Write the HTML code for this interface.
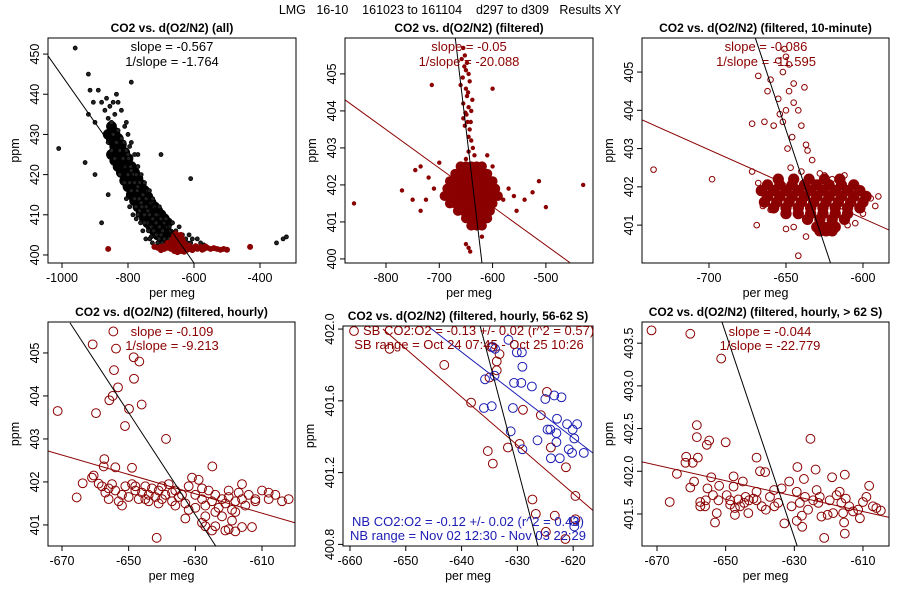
<!DOCTYPE html>
<html><head><meta charset="utf-8"><style>
html,body{margin:0;padding:0;background:#fff;}
svg{display:block;font-family:"Liberation Sans",Arial,sans-serif;}
</style></head><body>
<svg id="chart" width="900" height="600" viewBox="0 0 900 600" xmlns="http://www.w3.org/2000/svg">
<rect width="900" height="600" fill="#fff"/>
<text x="450" y="14" text-anchor="middle" font-size="12.5" fill="#000" xml:space="preserve">LMG   16-10    161023 to 161104    d297 to d309   Results XY</text>
</svg>
<script>
// ---------- data ----------
const p1XTicks=[-1000,-800,-600,-400];
const p1YTicks=[400,410,420,430,440,450];
const p1All=[[-960,451.5],[-1010,426.5],[-920,445],[-915,441],[-920,435],[-905,438],[-930,423],[-900,420],[-880,408],[-860,415],[-790,443],[-770,425],[-700,425],[-610,419],[-350,403],[-330,404],[-320,404.5],[-700,405],[-730,404.5],
[-880,438],[-870,436],[-860,434],[-850,433],[-845,430],[-840,435],[-835,428],[-830,431],[-825,426],[-820,429],[-815,424],[-812,428],[-808,422],[-805,426],[-800,420],[-798,424],[-795,418],[-792,422],[-790,416],[-785,420],[-782,414],[-780,418],[-776,412],[-772,416],[-770,410],[-766,414],[-762,408],[-758,412],[-755,406],[-750,410],[-746,404],[-742,408],[-738,406],[-734,404],[-730,407],[-726,403],[-722,406],[-718,402],[-714,405],[-710,403],[-706,404],[-700,402],[-696,403],[-690,404],[-685,402],[-680,403],[-675,404],
[-825,420],[-815,418],[-805,414],[-795,412],[-785,410],[-775,420],[-765,418],[-755,415],[-745,412],[-735,410],[-725,409],[-715,408],[-705,407],[-840,424],[-850,426],[-860,428],[-810,432],[-820,436],[-830,438],[-800,430],[-790,428],[-780,425],[-770,422],[-760,420],[-750,418],[-740,416],[-730,413],[-720,412],[-710,410],[-700,409],[-690,408],[-680,407],[-670,406],[-660,405],[-650,404],[-640,404],[-630,403],[-620,403],[-610,403],[-600,402],
[-810,418],[-800,425],[-790,421],[-780,414],[-770,417],[-760,413],[-750,408],[-740,411],[-795,427],[-805,433],[-835,440],[-845,438],[-855,437],[-865,439],[-890,441],[-900,433],[-775,409],[-765,411],[-745,414],[-735,416],[-725,414],[-715,410],[-705,412],[-695,406],[-685,409],[-675,407],[-665,408],[-655,406],[-645,407],[-635,405],[-625,404],[-615,405],[-605,404],[-590,404],[-580,403],[-570,402.5]];
const p1Core=[[-860,430],[-850,428.5],[-840,427],[-830,425.5],[-820,424],[-810,422],[-800,420],[-790,418.5],[-780,417],[-770,415.5],[-760,414],[-750,412.5],[-740,411],[-730,410],[-720,409],[-710,408],[-700,407],[-690,406],[-680,405.5],[-670,405],[-660,404.5],
[-850,432],[-840,430.5],[-830,429],[-820,427.5],[-810,425.5],[-800,424],[-790,422],[-780,420.5],[-770,419],[-760,417.5],[-750,416],[-740,414.5],[-730,413],[-720,412],[-710,411],[-700,410],[-690,409],[-680,408],
[-850,425],[-840,423.5],[-830,422],[-820,420.5],[-810,418.5],[-800,417],[-790,415],[-780,413.5],[-770,412],[-760,410.5],[-750,409],[-740,408],[-730,407],[-720,406],[-710,405],[-700,404.5],[-690,404],[-680,403.5]];
const p1Filtered=[[-860,401.5],[-430,402],[-720,402],[-710,401.8],[-700,402],[-690,401.5],[-680,401.8],[-675,402.5],[-670,403],[-665,404],[-660,405],[-655,405.3],[-650,404.5],[-645,403.5],[-640,405],[-635,404],[-630,403],[-625,402.5],[-620,402],[-615,401.5],[-610,402],[-600,401.8],[-590,401.5],[-580,402],[-570,401.5],[-560,401.8],[-550,401.5],[-540,401.7],[-530,401.5],[-520,401.3],[-510,401.5],[-500,401.3],[-660,401],[-650,400.7],[-640,401],[-630,400.8],[-670,401.5],[-655,402],[-645,402.2],[-635,401.8],[-625,401.2],[-665,402.8],[-650,403],[-640,402.6],[-630,401.6],[-620,401.3],[-700,401.2],[-690,402.2],[-680,403],[-660,403.2],[-645,404.8],[-655,403.8],[-635,402.8],[-615,402.3],[-605,401.2],[-595,402.2],[-585,401.9],[-575,401.3],[-565,402.1],[-650,401.8],[-660,402.2],[-640,402],[-630,402.2],[-620,401.6]];
const p1Fit=[[-1042,449.5],[-600,398]];

const p2XTicks=[-800,-700,-600,-500];
const p2YTicks=[400,401,402,403,404,405];
const p2Fringe=[[-655,405.7],[-652,405.5],[-648,405.3],[-650,405.1],[-656,404.9],[-645,405.0],[-660,404.7],[-650,404.6],[-643,404.8],[-648,404.4],[-655,404.2],[-645,404.1],[-651,403.95],[-640,404.0],[-655,403.8],[-647,403.7],[-643,403.5],[-652,403.6],[-645,403.3],[-640,403.2],[-637,403.0],[-645,402.9],[-634,402.8],[-650,402.7],[-714,404.7],[-600,404.6],[-610,402.8],[-638,404.3],[-658,405.4],[-653,405.2],[-646,404.5],[-649,403.9],[-641,403.7],
[-860,401.5],[-770,401.85],[-750,401.6],[-735,402.5],[-735,401.3],[-720,402.2],[-710,401.9],[-580,401.6],[-560,401.7],[-540,401.6],[-513,402.1],[-500,401.4],[-430,402.0],[-700,402.6],[-600,402.5],[-645,400.3],[-642,400.2],[-650,400.4],[-745,402.4],[-725,401.6],[-570,401.9],[-555,401.3],[-525,401.8],[-620,400.6],[-615,401.0]];
const p2Core=[[-660,402.5],[-650,402.5],[-640,402.5],[-630,402.5],[-620,402.5],
[-670,402.3],[-660,402.3],[-650,402.3],[-640,402.3],[-630,402.3],[-620,402.3],[-610,402.3],
[-680,402.1],[-670,402.1],[-660,402.1],[-650,402.1],[-640,402.1],[-630,402.1],[-620,402.1],[-610,402.1],[-600,402.1],
[-685,401.9],[-675,401.9],[-665,401.9],[-655,401.9],[-645,401.9],[-635,401.9],[-625,401.9],[-615,401.9],[-605,401.9],[-595,401.9],
[-690,401.7],[-680,401.7],[-670,401.7],[-660,401.7],[-650,401.7],[-640,401.7],[-630,401.7],[-620,401.7],[-610,401.7],[-600,401.7],[-590,401.7],
[-680,401.5],[-670,401.5],[-660,401.5],[-650,401.5],[-640,401.5],[-630,401.5],[-620,401.5],[-610,401.5],[-600,401.5],
[-665,401.3],[-655,401.3],[-645,401.3],[-635,401.3],[-625,401.3],[-615,401.3],[-605,401.3],
[-650,401.1],[-640,401.1],[-630,401.1],[-620,401.1],[-610,401.1],
[-640,400.9],[-630,400.9],[-620,400.9]];
const p2FitRed=[[-877,404.3],[-455,399.9]];
const p2FitBlack=[[-670,405.97],[-620,399.9]];

const p3XTicks=[-700,-650,-600];
const p3YTicks=[401,402,403,404,405];
const p3Fringe=[[-651,405.6],[-650,405.4],[-648,405.2],[-655,405.3],[-652,405.0],[-645,404.7],[-660,404.8],[-668,404.9],[-662,404.5],[-655,404.3],[-648,404.5],[-645,404.2],[-650,404.0],[-654,403.9],[-652,403.7],[-642,404.0],[-638,404.6],[-640,403.6],[-646,403.3],[-658,403.6],[-664,403.7],[-672,403.65],[-649,403.0],[-636,402.95],[-633,402.7],[-637,403.1],
[-736,402.45],[-698,402.2],[-642,400.2],[-669,401.0],[-672,402.4],[-668,402.1],[-665,401.5],[-660,401.4],[-612,402.3],[-605,402.0],[-595,401.7],[-590,401.75],[-592,401.5],[-600,401.3],[-605,401.05],[-650,400.9],[-645,400.95],[-637,400.7],[-610,401.0],[-647,402.5],[-640,402.4],[-628,402.35],[-625,402.3],[-620,402.2]];
const p3Core=[[-655,402.2],[-645,402.2],[-635,402.2],[-625,402.2],[-615,402.2],
[-662,402.05],[-654,402.05],[-646,402.05],[-638,402.05],[-630,402.05],[-622,402.05],[-614,402.05],[-606,402.05],
[-666,401.9],[-658,401.9],[-650,401.9],[-642,401.9],[-634,401.9],[-626,401.9],[-618,401.9],[-610,401.9],[-602,401.9],
[-662,401.75],[-654,401.75],[-646,401.75],[-638,401.75],[-630,401.75],[-622,401.75],[-614,401.75],[-606,401.75],[-598,401.75],
[-664,401.6],[-656,401.6],[-648,401.6],[-640,401.6],[-632,401.6],[-624,401.6],[-616,401.6],[-608,401.6],[-600,401.6],
[-658,401.45],[-650,401.45],[-642,401.45],[-634,401.45],[-626,401.45],[-618,401.45],[-610,401.45],[-602,401.45],
[-650,401.3],[-642,401.3],[-634,401.3],[-626,401.3],[-618,401.3],[-610,401.3],
[-636,401.15],[-628,401.15],[-620,401.15],[-612,401.15],
[-630,400.95],[-626,400.95],[-622,400.95],[-618,400.95],
[-628,400.85],[-624,400.85],[-620,400.85]];
const p3FitRed=[[-743.5,403.75],[-583,400.87]];
const p3FitBlack=[[-670,405.9],[-621,400.0]];

const p4XTicks=[-670,-650,-630,-610];
const p4YTicks=[401,402,403,404,405];
const p4Points=[[-654.6,405.5],[-653.8,405.1],[-660.8,405.2],[-671.3,403.65],[-659.8,403.6],[-648.5,404.9],[-646.8,404.8],[-654.4,404.6],[-648.4,404.4],[-653.2,404.2],[-654.8,404.0],[-655.8,403.9],[-649.9,403.7],[-646.1,403.8],[-651.1,403.3],[-638.8,403.0],[-641.6,400.7],[-665.6,401.64],[-663.8,401.97],[-661.0,402.1],[-660.5,402.15],[-659.0,401.96],[-657.5,402.36],[-657.3,402.53],[-654.0,402.34],[-649.0,402.33],[-624.9,402.36],
[-628,401.05],[-627,400.97],[-624,400.97],[-620,400.9],[-618,400.85],[-616,400.95],[-613,400.95],[-621,400.87],[-625,400.87],[-619,401.1],
[-658,401.9],[-657,401.75],[-656,401.6],[-655,401.95],[-654,401.8],[-653,401.55],[-652,401.7],[-651,401.9],[-650,401.65],[-649,401.95],[-648,401.8],[-647,401.6],[-646,401.75],[-645,401.9],[-644,401.7],[-643,401.85],[-642,401.65],[-641,401.8],[-640,401.6],[-639,401.7],[-638,401.95],[-637,401.55],[-636,401.8],[-635,401.65],[-634,401.7],[-633,401.5],[-632,401.9],[-631,402.1],[-630,401.7],[-629,402.05],[-628,401.6],[-627,401.45],[-626,401.8],[-625,401.55],[-624,401.7],[-623,401.4],[-622,401.6],[-621,401.5],[-620,401.65],[-619,401.35],[-618,401.55],[-617,401.75],[-616,401.6],[-615,401.45],[-614,401.7],[-612,401.55],[-610,401.8],[-608,401.6],[-606,401.7],[-604,401.55],[-602,401.6],
[-656,401.85],[-652,401.45],[-648,401.9],[-644,401.55],[-640,401.9],[-636,401.45],[-632,401.35],[-628,401.85],[-624,401.3],[-620,401.8],[-616,401.95],[-612,401.6],[-608,401.75],[-633,401.15],[-630,401.4],[-627,401.2],[-622,401.2],[-618,401.3],[-645,401.6],[-641,401.5],[-637,401.75]];
const p4FitRed=[[-674.2,402.72],[-600.1,401.05]];
const p4FitBlack=[[-667.6,405.7],[-623.8,400.5]];

const p5XTicks=[-660,-650,-640,-630,-620];
const p5YTicks=[400.8,401.2,401.6,402.0];
const p5SB=[[-652.9,401.89],[-643.1,401.80],[-638.3,401.59],[-635.3,401.32],[-634.4,401.25],[-631.7,401.34],[-629.6,401.36],[-633.7,401.77],[-633.2,401.86],[-633.7,401.82],[-635.0,401.73],[-629.0,401.55],[-625.8,401.52],[-624.7,401.65],[-624.0,401.34],[-621.3,401.23],[-619.6,401.07],[-627.3,401.05],[-626.7,400.97],[-623.3,400.96],[-624.9,400.87],[-619.6,400.94],[-621.4,400.83],[-634.7,401.90]];
const p5NB=[[-634.4,401.90],[-634.0,401.89],[-631.6,401.94],[-630.1,401.87],[-629.2,401.87],[-629.1,401.79],[-630.6,401.70],[-629.3,401.70],[-627.4,401.68],[-635.8,401.72],[-634.1,401.74],[-636.0,401.56],[-634.6,401.57],[-630.8,401.56],[-631.2,401.43],[-629.1,401.33],[-626.4,401.38],[-625.0,401.61],[-624.6,401.44],[-624.1,401.44],[-623.4,401.63],[-623.0,401.42],[-623.0,401.37],[-624.0,401.28],[-622.4,401.28],[-622.1,401.62],[-622.9,401.50],[-621.1,401.47],[-620.1,401.44],[-619.3,401.47],[-619.8,401.39],[-620.8,401.33],[-620.2,401.31],[-618.1,401.31],[-619.9,400.93],[-619.8,400.90]];
const p5FitSB=[[-654.1,402.0],[-616.5,400.99]];
const p5FitNB=[[-646.2,402.02],[-616.5,401.31]];
const p5FitBlack=[[-636.7,402.02],[-626.3,400.79]];

const p6XTicks=[-670,-650,-630,-610];
const p6YTicks=[401.5,402.0,402.5,403.0,403.5];
const p6Points=[[-671.6,403.65],[-660.3,403.61],[-651.3,403.32],[-658.4,402.54],[-658.4,402.40],[-661.5,402.17],[-658.1,402.16],[-661.7,402.10],[-659.6,402.10],[-664.2,401.97],[-666.3,401.64],[-660.3,401.81],[-659.2,401.88],[-654.8,402.36],[-655.5,402.31],[-650.0,402.34],[-641.0,402.16],[-640.0,402.00],[-638.5,401.99],[-625.3,402.38],[-623.8,402.02],[-629.1,402.05],[-619.0,401.93],[-615.3,401.96],[-608.2,401.83],[-615.3,401.27],[-621.3,401.22],[-627.7,401.35],[-632.9,401.39],[-653.1,401.40],[-647.3,401.49],[-652.6,401.51],[-656.0,401.59],[-655.8,401.66],[-655.3,401.80],[-654.2,401.93],[-651.9,401.83],[-649.7,401.72],[-647.7,401.94],[-648.7,401.66],[-647.3,401.57],[-645.0,401.88],[-644.2,401.70],[-643.2,401.66],[-641.9,401.68],[-641.0,401.66],[-639.5,401.59],[-637.1,401.70],[-635.9,401.78],[-634.7,401.63],[-633.7,401.80],[-631.5,401.88],[-630.8,401.59],[-629.3,401.76],[-628.4,401.63],[-627.2,401.91],[-626.9,401.70],[-626.0,401.55],[-624.5,401.66],[-623.5,401.78],[-623.0,401.63],[-622.6,401.70],[-622.1,401.47],[-620.3,401.49],[-619.7,401.66],[-618.7,401.51],[-617.7,401.72],[-616.8,401.76],[-616.3,401.63],[-615.8,401.51],[-615.0,401.68],[-614.0,401.59],[-612.9,401.53],[-611.4,401.55],[-610.0,401.64],[-609.0,401.70],[-607.1,401.59],[-606.1,401.57],[-604.8,401.54],[-610.9,401.45],[-615.5,401.40],[-627.8,401.48],[-629.3,401.42],[-635.8,401.59],[-638.3,401.55],[-641.0,401.76],[-643.4,401.51],[-645.8,401.59],[-657.4,401.64],[-657.4,401.59],[-653.7,401.72],[-652.1,401.66],[-647.7,401.82],[-646.3,401.67],[-644.6,401.63],[-648.7,401.61]];
const p6FitRed=[[-674.4,402.11],[-602.4,401.46]];
const p6FitBlack=[[-651.1,403.75],[-629.2,401.13]];

// ---------- drawing ----------
const NS="http://www.w3.org/2000/svg";
const svg=document.getElementById('chart');
const RED="#8b0000", BLUE="#1c1cb4";
function mk(tag,attrs,parent){const e=document.createElementNS(NS,tag);for(const k in attrs)e.setAttribute(k,attrs[k]);(parent||svg).appendChild(e);return e;}

function panel(id,box,xd,yd,xt,yt,title,fmt){
  const g=mk('g',{});
  
  
  const sx=v=>box.l+(v-xd[0])/(xd[1]-xd[0])*(box.r-box.l);
  const sy=v=>box.b-(v-yd[0])/(yd[1]-yd[0])*(box.b-box.t);
  const cp=mk('clipPath',{id:id+'-clip'},g);
  mk('rect',{x:box.l,y:box.t,width:box.r-box.l,height:box.b-box.t},cp);
  const t=mk('text',{x:(box.l+box.r)/2,y:box.t-6,'text-anchor':'middle','font-size':'12','font-weight':'bold'},g);
  t.textContent=title;
  
  
  xt.forEach(v=>{const x=sx(v);
    mk('line',{x1:x,x2:x,y1:box.b,y2:box.b+5,stroke:'#000','stroke-width':1},g);
    const l=mk('text',{x:x,y:box.b+19,'text-anchor':'middle','font-size':'12.5'},g);l.textContent=String(v);
    
    });
  yt.forEach(v=>{const y=sy(v);
    mk('line',{x1:box.l-5,x2:box.l,y1:y,y2:y,stroke:'#000','stroke-width':1},g);
    const l=mk('text',{x:0,y:0,'text-anchor':'middle','font-size':'12.5',transform:`translate(${box.l-9},${y}) rotate(-90)`},g);l.textContent=fmt?v.toFixed(1):String(v);
    
    });
  const xl=mk('text',{x:(box.l+box.r)/2,y:box.b+34,'text-anchor':'middle','font-size':'12.5'},g);xl.textContent='per meg';
  
  
  const yl=mk('text',{x:0,y:0,'text-anchor':'middle','font-size':'12.5',transform:`translate(${box.l-29},${(box.t+box.b)/2}) rotate(-90)`},g);yl.textContent='ppm';
  
  
  const pg=mk('g',{},g);
  
  
  const lg=mk('g',{'clip-path':`url(#${id}-clip)`},g);
  const frame=mk('rect',{x:box.l,y:box.t,width:box.r-box.l,height:box.b-box.t,fill:'none',stroke:'#000','stroke-width':1},g);
  
  
  return {
    pts(arr,r,stroke,fill,sw,name){arr.forEach(p=>{const c=mk('circle',{cx:sx(p[0]),cy:sy(p[1]),r:r,stroke:stroke,fill:fill,'stroke-width':sw},pg);
      
      });},
    line(seg,color,name){const l=mk('line',{x1:sx(seg[0][0]),y1:sy(seg[0][1]),x2:sx(seg[1][0]),y2:sy(seg[1][1]),stroke:color,'stroke-width':1},lg);
      
      },
    text(x,y,s,color,name,anchor){const e=mk('text',{x:x,y:y,'text-anchor':anchor||'middle','font-size':'13',fill:color},g);e.textContent=s;
      
      }
  };
}

// Panel 1
let P=panel('panel-all',{l:48,r:296,t:38,b:263},[-1042.4,-290.9],[398.0,454.0],p1XTicks,p1YTicks,'CO2 vs. d(O2/N2) (all)');
P.pts(p1Core,5,'#000','#000',0.8,'point-all-core');
P.pts(p1All,2,'#000','#222',0.8,'point-all');
P.pts(p1Filtered,2.6,RED,RED,0.8,'point-filtered');
P.line(p1Fit,'#000','fit-line');
P.text(172,51,'slope = -0.567','#000','slope-label');
P.text(172,66,'1/slope = -1.764','#000','inverse-slope-label');

// Panel 2
P=panel('panel-filtered',{l:345,r:593,t:38,b:263},[-876.9,-411.6],[399.89,405.97],p2XTicks,p2YTicks,'CO2 vs. d(O2/N2) (filtered)');
P.pts(p2Core,4.6,RED,RED,0.8,'point-filtered-core');
P.pts(p2Fringe,1.8,RED,RED,0.8,'point-filtered');
P.line(p2FitRed,RED,'fit-line-red');
P.line(p2FitBlack,'#000','fit-line-black');
P.text(469,51,'slope = -0.05',RED,'slope-label');
P.text(469,66,'1/slope = -20.088',RED,'inverse-slope-label');

// Panel 3
P=panel('panel-10-minute',{l:642,r:889,t:38,b:263},[-743.5,-583.1],[400.01,405.89],p3XTicks,p3YTicks,'CO2 vs. d(O2/N2) (filtered, 10-minute)');
P.pts(p3Core,5,RED,RED,1.3,'point-10min-core');
P.pts(p3Fringe,2.8,RED,'none',1,'point-10min');
P.line(p3FitRed,RED,'fit-line-red');
P.line(p3FitBlack,'#000','fit-line-black');
P.text(766,51,'slope = -0.086',RED,'slope-label');
P.text(766,66,'1/slope = -11.595',RED,'inverse-slope-label');

// Panel 4
P=panel('panel-hourly',{l:48,r:295,t:322,b:546},[-674.2,-600.1],[400.51,405.72],p4XTicks,p4YTicks,'CO2 vs. d(O2/N2) (filtered, hourly)');
P.pts(p4Points,4.4,RED,'none',1,'point-hourly');
P.line(p4FitRed,RED,'fit-line-red');
P.line(p4FitBlack,'#000','fit-line-black');
P.text(172,336,'slope = -0.109',RED,'slope-label');
P.text(172,350,'1/slope = -9.213',RED,'inverse-slope-label');

// Panel 5
P=panel('panel-56-62S',{l:343,r:593,t:326,b:546},[-661.25,-616.45],[400.791,402.017],p5XTicks,p5YTicks,'CO2 vs. d(O2/N2) (filtered, hourly, 56-62 S)',true);
P.pts(p5SB,4.4,RED,'none',1,'point-sb');
P.pts(p5NB,4.4,BLUE,'none',1,'point-nb');
P.line(p5FitSB,RED,'fit-line-sb');
P.line(p5FitNB,BLUE,'fit-line-nb');
P.line(p5FitBlack,'#000','fit-line-black');
const lc=mk('circle',{cx:354,cy:331,r:4.4,stroke:RED,fill:'none','stroke-width':1});


P.text(363,335,'SB CO2:O2 = -0.13 +/- 0.02 (r^2 = 0.57)',RED,'sb-ratio-label','start');
P.text(469,349,'SB range = Oct 24 07:45 - Oct 25 10:26',RED,'sb-range-label');
P.text(468,526,'NB CO2:O2 = -0.12 +/- 0.02 (r^2 = 0.43)',BLUE,'nb-ratio-label');
P.text(468,540,'NB range = Nov 02 12:30 - Nov 03 22:29',BLUE,'nb-range-label');

// Panel 6
P=panel('panel-gt-62S',{l:642,r:889,t:322,b:546},[-674.37,-602.42],[401.125,403.748],p6XTicks,p6YTicks,'CO2 vs. d(O2/N2) (filtered, hourly, > 62 S)',true);
P.pts(p6Points,4.4,RED,'none',1,'point-gt62');
P.line(p6FitRed,RED,'fit-line-red');
P.line(p6FitBlack,'#000','fit-line-black');
P.text(770,336,'slope = -0.044',RED,'slope-label');
P.text(770,350,'1/slope = -22.779',RED,'inverse-slope-label');
</script>
</body></html>
